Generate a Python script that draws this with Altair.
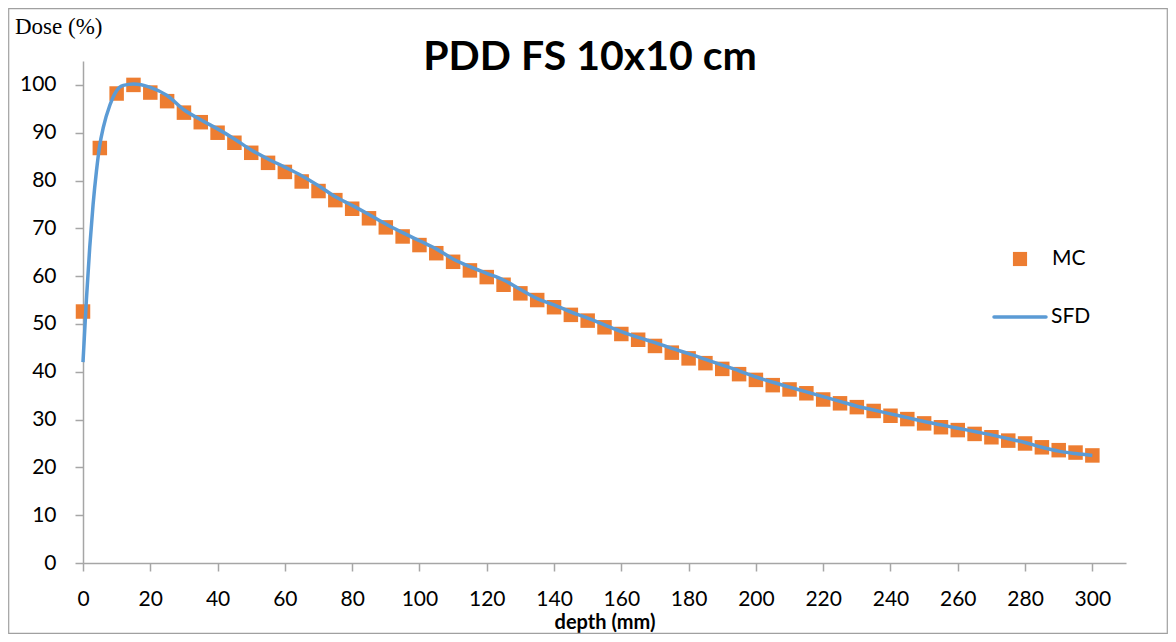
import altair as alt
import pandas as pd

# ---- data ----
mc_depth = [0, 5, 10, 15, 20, 25, 30, 35, 40, 45, 50, 55, 60, 65, 70, 75, 80, 85, 90, 95,
            100, 105, 110, 115, 120, 125, 130, 135, 140, 145, 150, 155, 160, 165, 170, 175,
            180, 185, 190, 195, 200, 205, 210, 215, 220, 225, 230, 235, 240, 245, 250, 255,
            260, 265, 270, 275, 280, 285, 290, 295, 300]
mc_dose = [52.6, 86.8, 98.2, 100.0, 98.4, 96.6, 94.2, 92.2, 90.0, 87.9, 85.8, 83.7, 81.8,
           79.8, 77.8, 75.9, 74.1, 72.1, 70.2, 68.3, 66.5, 64.8, 63.0, 61.2, 59.8, 58.2,
           56.4, 55.0, 53.5, 51.9, 50.7, 49.3, 47.9, 46.7, 45.4, 44.0, 42.8, 41.8, 40.6,
           39.5, 38.3, 37.2, 36.3, 35.5, 34.2, 33.4, 32.6, 31.8, 30.8, 30.1, 29.2, 28.4,
           27.8, 27.0, 26.3, 25.6, 25.0, 24.2, 23.6, 23.1, 22.5]

sfd_depth = [0, 1, 2, 3, 4, 5, 6, 8, 10, 12, 15, 20, 25, 30, 35, 40, 45, 50, 55, 60, 65,
             70, 75, 80, 85, 90, 95, 100, 105, 110, 115, 120, 125, 130, 135, 140, 145, 150,
             155, 160, 165, 170, 175, 180, 185, 190, 195, 200, 205, 210, 215, 220, 225, 230,
             235, 240, 245, 250, 255, 260, 265, 270, 275, 280, 285, 290, 295, 300]
sfd_dose = [42.0, 55.0, 66.0, 75.0, 82.0, 87.5, 91.0, 95.8, 98.8, 99.9, 100.2, 99.5, 97.8,
            94.8, 92.7, 90.8, 88.7, 86.4, 84.5, 82.8, 81.0, 78.9, 76.6, 74.8, 72.9, 70.9,
            69.1, 67.4, 65.7, 63.6, 62.0, 60.6, 59.2, 57.2, 55.3, 54.0, 52.5, 51.2, 49.8,
            48.4, 47.2, 46.1, 44.9, 43.8, 42.6, 41.4, 40.2, 38.9, 37.8, 36.8, 35.8, 34.8,
            33.8, 32.8, 32.0, 31.2, 30.4, 29.6, 28.9, 28.2, 27.5, 26.8, 26.0, 25.2, 24.2,
            23.4, 22.9, 22.5]

x_ticks = list(range(0, 301, 20))
y_ticks = list(range(0, 101, 10))

title_text = "PDD FS 10x10 cm"
y_label_text = "Dose (%)"
x_title_text = "depth (mm)"
legend_names = ["MC", "SFD"]

ORANGE = "#ED7D31"
BLUE = "#5B9BD5"
AXIS_GRAY = "#A6A6A6"
FONT = "Lato"

W, H = 1043, 502
PAD = {"left": 75, "top": 53, "right": 42, "bottom": 71}

mc_df = pd.DataFrame({"depth": mc_depth, "dose": mc_dose})
sfd_df = pd.DataFrame({"depth": sfd_depth, "dose": sfd_dose})
one = pd.DataFrame({"a": [0]})

xscale = alt.Scale(domain=[0, 310], nice=False, zero=False)
yscale = alt.Scale(domain=[0, 105], nice=False)

x_axis = alt.Axis(values=x_ticks, grid=False, tickSize=8, labelPadding=17, labelFlush=False,
                  labelFontSize=21, labelFont=FONT, labelColor="#000000",
                  domainColor=AXIS_GRAY, tickColor=AXIS_GRAY, domainWidth=1.5, tickWidth=1.5,
                  title=x_title_text, titleFont=FONT, titleFontSize=20, titleFontWeight="bold",
                  titleColor="#000000", titlePadding=3)
y_axis = alt.Axis(values=y_ticks, grid=False, tickSize=8, labelPadding=19, labelFlush=False,
                  labelFontSize=21, labelFont=FONT, labelColor="#000000",
                  domainColor=AXIS_GRAY, tickColor=AXIS_GRAY, domainWidth=1.5, tickWidth=1.5,
                  title=None)

points = alt.Chart(mc_df).mark_point(shape="square", filled=True, size=210, color=ORANGE,
                                     opacity=1).encode(
    x=alt.X("depth:Q", scale=xscale, axis=x_axis),
    y=alt.Y("dose:Q", scale=yscale, axis=y_axis),
)

line = alt.Chart(sfd_df).mark_line(color=BLUE, strokeWidth=3.5, interpolate="monotone").encode(
    x=alt.X("depth:Q", scale=xscale),
    y=alt.Y("dose:Q", scale=yscale),
)

# chart-area border
border = alt.Chart(one).mark_rect(fill="transparent", stroke="#A0A0A0", strokeWidth=1.2).encode(
    x=alt.value(-PAD["left"] + 0.7), x2=alt.value(W + PAD["right"] - 0.7),
    y=alt.value(-PAD["top"] + 0.7), y2=alt.value(H + PAD["bottom"] - 0.7),
)

title = alt.Chart(one).mark_text(text=title_text, font=FONT, fontSize=41, fontWeight="bold",
                                 color="#000000", align="center", baseline="alphabetic").encode(
    x=alt.value(507), y=alt.value(9))

ylab = alt.Chart(one).mark_text(text=y_label_text, font="Liberation Serif", fontSize=23,
                                color="#000000", align="left", baseline="alphabetic").encode(
    x=alt.value(-68), y=alt.value(-27))

# legend
leg_sq = alt.Chart(one).mark_point(shape="square", filled=True, size=200, color=ORANGE,
                                   opacity=1).encode(x=alt.value(937), y=alt.value(198))
leg_line = alt.Chart(one).mark_rule(color=BLUE, strokeWidth=3.5, strokeCap="round").encode(
    x=alt.value(911), x2=alt.value(963), y=alt.value(256))
leg_mc = alt.Chart(one).mark_text(text=legend_names[0], font=FONT, fontSize=21, color="#000000",
                                  align="left", baseline="middle").encode(
    x=alt.value(969), y=alt.value(198))
leg_sfd = alt.Chart(one).mark_text(text=legend_names[1], font=FONT, fontSize=21, color="#000000",
                                   align="left", baseline="middle").encode(
    x=alt.value(968), y=alt.value(256))

chart = alt.layer(border, points, line, title, ylab, leg_sq, leg_line, leg_mc, leg_sfd).properties(
    width=W, height=H, autosize=alt.AutoSizeParams(type="none"), padding=PAD,
    background="white",
).configure_view(stroke=None)

chart.save("out.html", embed_options={"renderer": "svg", "actions": False})
